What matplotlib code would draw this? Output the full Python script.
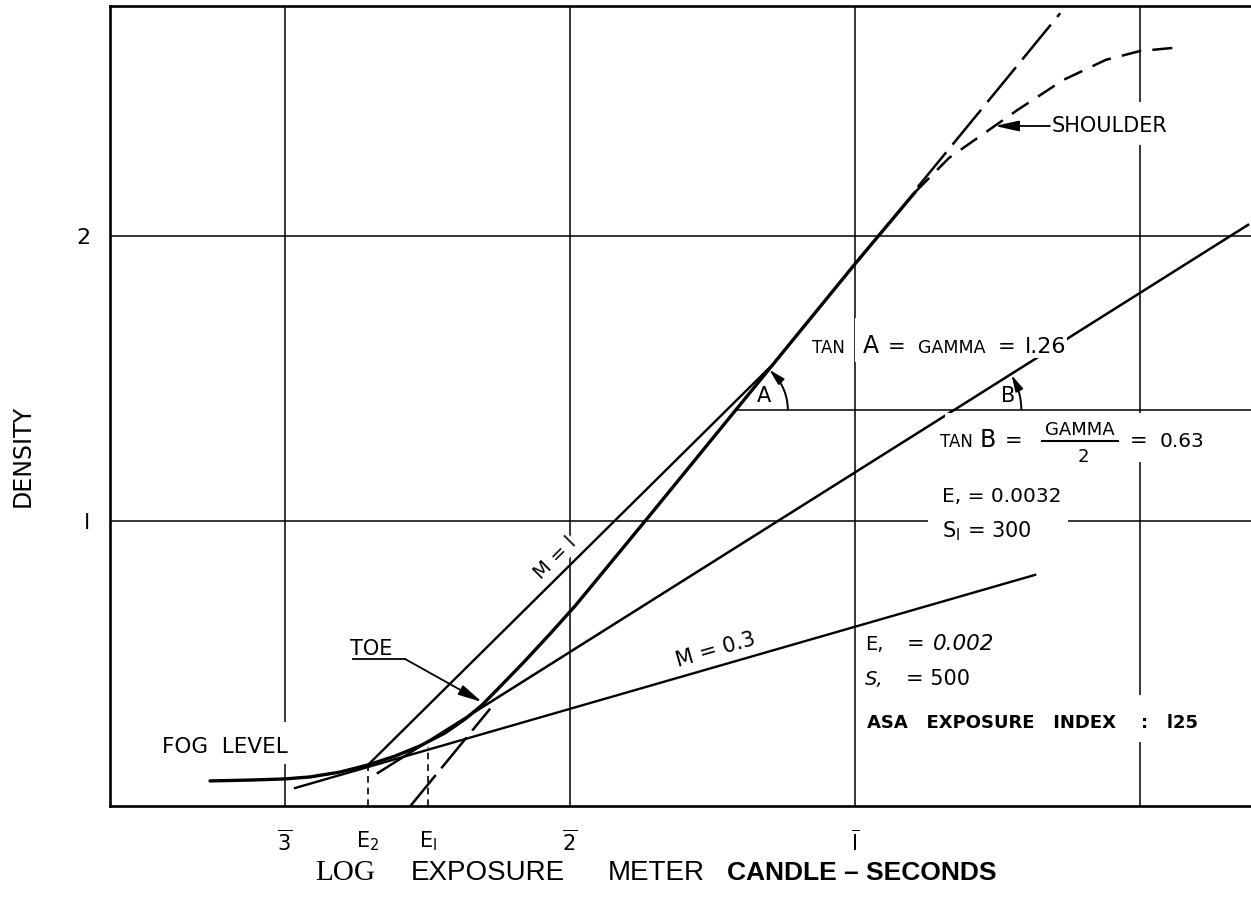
import matplotlib
matplotlib.use('Agg')
import matplotlib.pyplot as plt
from matplotlib.patches import Arc, Rectangle
import numpy as np

# characteristic curve (log exposure, density), solid part
curve_logE = [-3.263, -3.123, -3.0, -2.912, -2.807, -2.709, -2.614, -2.526, -2.439,
              -2.368, -2.309, -2.246, -2.158, -2.070, -1.982, -1.719, -1.404, -1.0, -0.789]
curve_D = [0.088, 0.091, 0.095, 0.102, 0.119, 0.144, 0.175, 0.211, 0.256,
           0.305, 0.354, 0.418, 0.509, 0.604, 0.702, 1.021, 1.407, 1.902, 2.154]

# shoulder (dashed)
shoulder_logE = [-0.789, -0.67, -0.53, -0.43, -0.27, -0.12, 0.0, 0.116]
shoulder_D = [2.154, 2.274, 2.372, 2.442, 2.547, 2.618, 2.649, 2.660]

# straight line of the curve (gamma), extended dashed at both ends
gamma = 1.22
gamma_logE0 = -2.56
gamma_lo_logE = [-2.56, -2.28]
gamma_hi_logE = [-0.78, -0.28]

# tangent lines
m1_logE, m1_D = [-2.709, -1.298], [0.144, 1.540]
m03_logE, m03_D = [-2.965, -0.368], [0.063, 0.811]
b_logE, b_D = [-2.674, 0.379], [0.116, 2.039]
ref_D = 1.39

# exposure points
E2, E1 = -2.709, -2.498
E2_D, E1_D = 0.144, 0.207

xtick_pos = [-3, E2, E1, -2, -1]
xtick_lab = [r'$\overline{3}$', r'E$_2$', r'E$_\mathsf{I}$', r'$\overline{2}$', r'$\overline{\mathsf{I}}$']
ytick_pos = [1, 2]
ytick_lab = ['l', '2']
grid_x = [-3, -2, -1, 0]
grid_y = [1, 2]

fig = plt.figure(figsize=(12.51, 9.14), dpi=100)
ax = fig.add_axes([110/1251, 108/914, 1141/1251, 800/914])
ax.set_xlim(-3.614, 0.3895)
ax.set_ylim(0, 2.807)

for s in ['left', 'top', 'bottom']:
    ax.spines[s].set_linewidth(1.9)
ax.spines['right'].set_visible(False)

for g in grid_x:
    ax.axvline(g, color='k', lw=1.1, zorder=1)
for g in grid_y:
    ax.axhline(g, color='k', lw=1.1, zorder=1)

ax.set_xticks(xtick_pos)
ax.set_xticklabels(xtick_lab, fontsize=15)
ax.set_yticks(ytick_pos)
ax.set_yticklabels(ytick_lab, fontsize=16)
ax.tick_params(length=0)
ax.tick_params(axis='x', pad=17)
ax.tick_params(axis='y', pad=14)

# curve
ax.plot(curve_logE, curve_D, color='k', lw=2.4, zorder=2, solid_capstyle='round')
ax.plot(shoulder_logE, shoulder_D, color='k', lw=1.8, dashes=(8, 4.5), zorder=2)
x = np.array(gamma_lo_logE)
ax.plot(x, gamma * (x - gamma_logE0), color='k', lw=1.8, dashes=(16, 3.5), zorder=2)
x = np.array(gamma_hi_logE)
ax.plot(x, gamma * (x - gamma_logE0), color='k', lw=1.8, dashes=(18, 4), zorder=2)

ax.plot(m1_logE, m1_D, color='k', lw=1.7, zorder=2)
ax.plot(m03_logE, m03_D, color='k', lw=1.7, zorder=2)
ax.plot(b_logE, b_D, color='k', lw=1.8, zorder=2)

# reference level for the angles
a_vertex = gamma_logE0 + ref_D / gamma
b_slope = (b_D[1] - b_D[0]) / (b_logE[1] - b_logE[0])
b_vertex = b_logE[0] + (ref_D - b_D[0]) / b_slope
ax.plot([a_vertex, 0.3895], [ref_D, ref_D], color='k', lw=1.1, zorder=2)

# angle arcs with arrows
for vx, r, slope in [(a_vertex, 0.185, gamma), (b_vertex, 0.235, b_slope)]:
    ang = np.degrees(np.arctan(slope))
    ax.add_patch(Arc((vx, ref_D), 2 * r, 2 * r, theta1=0, theta2=ang - 9, color='k', lw=1.4, zorder=2))
    t0, t1 = np.radians(ang - 10), np.radians(ang - 1)
    ax.annotate('', xy=(vx + r * np.cos(t1), ref_D + r * np.sin(t1)),
                xytext=(vx + r * np.cos(t0), ref_D + r * np.sin(t0)),
                arrowprops=dict(arrowstyle='-|>,head_length=0.7,head_width=0.18', color='k',
                                lw=1.2, shrinkA=0, shrinkB=0, mutation_scale=14), zorder=3)
ax.text(a_vertex + 0.1, ref_D + 0.015, 'A', fontsize=15, ha='center', va='bottom', zorder=4)
ax.text(b_vertex + 0.19, ref_D + 0.015, 'B', fontsize=15, ha='center', va='bottom', zorder=4)

# exposure markers
ax.plot([E2, E2], [0, E2_D], color='k', lw=1.2, dashes=(4, 3), zorder=2)
ax.plot([E1, E1], [0, E1_D], color='k', lw=1.2, dashes=(4, 3), zorder=2)

# white boxes behind lettering
boxes = [(-1.0, 1.558, 0.5, 0.155), (-0.684, 1.207, 0.93, 0.172),
         (-0.744, 0.916, 0.49, 0.228), (-0.975, 0.225, 1.22, 0.164),
         (-0.323, 2.319, 0.5, 0.151), (-3.446, 0.147, 0.527, 0.148)]
for bx, by, bw, bh in boxes:
    ax.add_patch(Rectangle((bx, by), bw, bh, facecolor='white', edgecolor='none', zorder=3))

# labels
ax.text(-3.432, 0.186, 'FOG  LEVEL', fontsize=15.5, ha='left', va='baseline', zorder=4)
ax.text(-2.772, 0.530, 'TOE', fontsize=15, ha='left', va='baseline', zorder=4)
ax.plot([-2.761, -2.579], [0.516, 0.516], color='k', lw=1.3, zorder=2)
ax.annotate('', xy=(-2.309, 0.365), xytext=(-2.579, 0.516),
            arrowprops=dict(arrowstyle='-|>,head_length=0.9,head_width=0.2', color='k',
                            lw=1.3, shrinkA=0, shrinkB=0, mutation_scale=16), zorder=3)
ax.text(-2.053, 0.870, 'M = l', fontsize=14, rotation=45, ha='center', va='center',
        rotation_mode='anchor', zorder=4,
        bbox=dict(facecolor='white', edgecolor='none', pad=0.5))
ax.text(-1.488, 0.547, 'M = 0.3', fontsize=15, rotation=16, ha='center', va='center',
        rotation_mode='anchor', zorder=4)

ax.text(-0.309, 2.386, 'SHOULDER', fontsize=15, ha='left', va='center', zorder=4)
ax.annotate('', xy=(-0.509, 2.386), xytext=(-0.316, 2.386),
            arrowprops=dict(arrowstyle='-|>,head_length=0.9,head_width=0.2', color='k',
                            lw=1.3, shrinkA=0, shrinkB=0, mutation_scale=16), zorder=3)

# TAN A = GAMMA = 1.26
ax.text(-1.151, 1.589, 'TAN', fontsize=12, ha='left', va='baseline', zorder=4)
ax.text(-0.972, 1.589, 'A', fontsize=17, ha='left', va='baseline', zorder=4)
ax.text(-0.885, 1.589, '=', fontsize=15, ha='left', va='baseline', zorder=4)
ax.text(-0.779, 1.589, 'GAMMA', fontsize=12.5, ha='left', va='baseline', zorder=4)
ax.text(-0.50, 1.589, '=', fontsize=15, ha='left', va='baseline', zorder=4)
ax.text(-0.405, 1.589, 'l.26', fontsize=16, ha='left', va='baseline', zorder=4,
        bbox=dict(facecolor='white', edgecolor='none', pad=0.8))

# TAN B = GAMMA / 2 = 0.63
ax.text(-0.702, 1.260, 'TAN', fontsize=12, ha='left', va='baseline', zorder=4)
ax.text(-0.561, 1.260, 'B', fontsize=17, ha='left', va='baseline', zorder=4)
ax.text(-0.474, 1.260, '=', fontsize=15, ha='left', va='baseline', zorder=4)
ax.text(-0.211, 1.302, 'GAMMA', fontsize=13, ha='center', va='baseline', zorder=4)
ax.plot([-0.344, -0.077], [1.281, 1.281], color='k', lw=1.5, zorder=4)
ax.text(-0.2, 1.207, '2', fontsize=13, ha='center', va='baseline', zorder=4)
ax.text(-0.035, 1.260, '=', fontsize=15, ha='left', va='baseline', zorder=4)
ax.text(0.070, 1.260, '0.63', fontsize=14.5, ha='left', va='baseline', zorder=4)

ax.text(-0.695, 1.067, 'E, = 0.0032', fontsize=14.5, ha='left', va='baseline', zorder=4)
ax.text(-0.695, 0.944, r'S$_\mathsf{I}$ = 300', fontsize=15, ha='left', va='baseline', zorder=4)

ax.text(-0.965, 0.547, 'E,', fontsize=14, ha='left', va='baseline', zorder=4)
ax.text(-0.82, 0.547, '=', fontsize=15, ha='left', va='baseline', zorder=4)
ax.text(-0.726, 0.547, '0.002', fontsize=15.5, style='italic', ha='left', va='baseline', zorder=4)
ax.text(-0.965, 0.425, 'S,', fontsize=14, style='italic', ha='left', va='baseline', zorder=4)
ax.text(-0.82, 0.425, '= 500', fontsize=15, ha='left', va='baseline', zorder=4)
ax.text(-0.958, 0.274, 'ASA   EXPOSURE   INDEX    :   l25', fontsize=13, fontweight='bold',
        ha='left', va='baseline', zorder=4)

# axis titles
fig.text(23/1251, 1 - 456/914, 'DENSITY', rotation=90, fontsize=17, ha='center', va='center')
yl = 1 - 873/914
fig.text(345/1251, yl, 'LOG', family='Liberation Serif', fontsize=21, ha='center', va='center')
fig.text(488/1251, yl, 'EXPOSURE', family='Liberation Sans', fontsize=20, ha='center', va='center')
fig.text(656/1251, yl, 'METER', family='Liberation Sans', fontsize=20, ha='center', va='center')
fig.text(862/1251, yl, 'CANDLE \u2013 SECONDS', family='Liberation Sans', fontweight='bold',
         fontsize=19, ha='center', va='center')

fig.savefig('out.png', dpi=100)
